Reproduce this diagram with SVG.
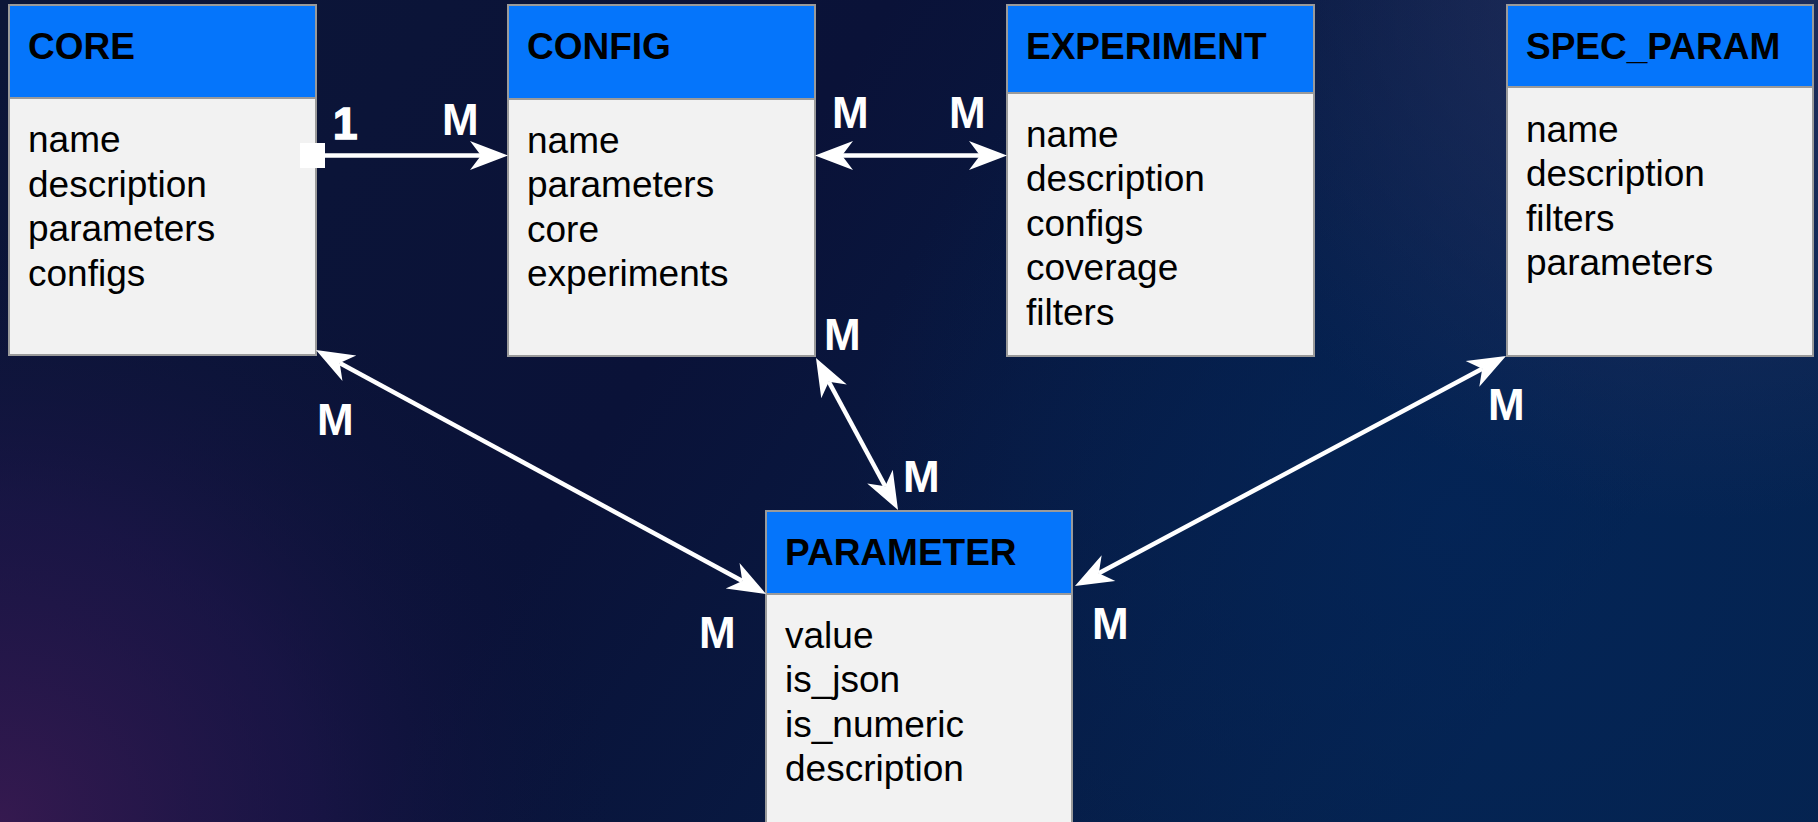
<svg xmlns="http://www.w3.org/2000/svg" width="1818" height="822" viewBox="0 0 1818 822">
  <style>
    .hdr { fill: #0575fb; stroke: #9a9a9a; stroke-width: 2; }
    .body { fill: #f2f2f2; stroke: #9a9a9a; stroke-width: 2; }
    .title { font-family: "Liberation Sans", Arial, sans-serif; font-weight: bold; font-size: 37px; fill: #000; }
    .field { font-family: "Liberation Sans", Arial, sans-serif; font-size: 37px; fill: #000; }
    .card { font-family: "Liberation Sans", Arial, sans-serif; font-weight: bold; font-size: 44px; fill: #fff; }
    .link { stroke: #fff; stroke-width: 4.5; fill: none; }
  </style>
  <defs>
    <linearGradient id="bgBase" x1="0" y1="0" x2="1" y2="0.3">
      <stop offset="0" stop-color="#0c1638"/>
      <stop offset="0.45" stop-color="#0a1238"/>
      <stop offset="1" stop-color="#05234f"/>
    </linearGradient>
    <radialGradient id="bgPurple" cx="0" cy="822" r="620" gradientUnits="userSpaceOnUse">
      <stop offset="0" stop-color="#3a1a52" stop-opacity="0.9"/>
      <stop offset="0.5" stop-color="#24164e" stop-opacity="0.55"/>
      <stop offset="1" stop-color="#0a1238" stop-opacity="0"/>
    </radialGradient>
    <radialGradient id="bgTopRight" cx="1700" cy="0" r="520" gradientUnits="userSpaceOnUse">
      <stop offset="0" stop-color="#26305e" stop-opacity="0.9"/>
      <stop offset="1" stop-color="#26305e" stop-opacity="0"/>
    </radialGradient>
    <radialGradient id="bgRight" cx="1450" cy="520" r="600" gradientUnits="userSpaceOnUse">
      <stop offset="0" stop-color="#032558" stop-opacity="0.8"/>
      <stop offset="1" stop-color="#032558" stop-opacity="0"/>
    </radialGradient>
    <!-- classic notched arrowhead; reference point sits at the notch -->
    <marker id="arrow" markerUnits="userSpaceOnUse" markerWidth="60" markerHeight="40" viewBox="-15 -20 60 40" refX="0" refY="0" orient="auto-start-reverse" overflow="visible">
      <path d="M27,0 L-11,-14.5 L0,0 L-11,14.5 Z" fill="#fff"/>
    </marker>
  </defs>

  <!-- backdrop -->
  <rect width="1818" height="822" fill="url(#bgBase)"/>
  <rect width="1818" height="822" fill="url(#bgRight)"/>
  <rect width="1818" height="822" fill="url(#bgPurple)"/>
  <rect width="1818" height="822" fill="url(#bgTopRight)"/>

  <!-- entities -->
  <g id="core">
    <rect class="body" x="9" y="5" width="307" height="350"/>
    <rect class="hdr" x="9" y="5" width="307" height="93"/>
    <text class="title" x="28" y="59">CORE</text>
    <text class="field" x="28" y="152">name</text>
    <text class="field" x="28" y="196.5">description</text>
    <text class="field" x="28" y="241">parameters</text>
    <text class="field" x="28" y="285.5">configs</text>
  </g>

  <g id="config">
    <rect class="body" x="508" y="5" width="307" height="351"/>
    <rect class="hdr" x="508" y="5" width="307" height="94"/>
    <text class="title" x="527" y="59">CONFIG</text>
    <text class="field" x="527" y="152.5">name</text>
    <text class="field" x="527" y="197">parameters</text>
    <text class="field" x="527" y="241.5">core</text>
    <text class="field" x="527" y="286">experiments</text>
  </g>

  <g id="experiment">
    <rect class="body" x="1007" y="5" width="307" height="351"/>
    <rect class="hdr" x="1007" y="5" width="307" height="88"/>
    <text class="title" x="1026" y="59">EXPERIMENT</text>
    <text class="field" x="1026" y="146.5">name</text>
    <text class="field" x="1026" y="191">description</text>
    <text class="field" x="1026" y="235.5">configs</text>
    <text class="field" x="1026" y="280">coverage</text>
    <text class="field" x="1026" y="324.5">filters</text>
  </g>

  <g id="spec_param">
    <rect class="body" x="1507" y="5" width="306" height="351"/>
    <rect class="hdr" x="1507" y="5" width="306" height="82"/>
    <text class="title" x="1526" y="59">SPEC_PARAM</text>
    <text class="field" x="1526" y="141.5">name</text>
    <text class="field" x="1526" y="186">description</text>
    <text class="field" x="1526" y="230.5">filters</text>
    <text class="field" x="1526" y="275">parameters</text>
  </g>

  <g id="parameter">
    <rect class="body" x="766" y="511" width="306" height="330"/>
    <rect class="hdr" x="766" y="511" width="306" height="83"/>
    <text class="title" x="785" y="565">PARAMETER</text>
    <text class="field" x="785" y="647.5">value</text>
    <text class="field" x="785" y="692">is_json</text>
    <text class="field" x="785" y="736.5">is_numeric</text>
    <text class="field" x="785" y="781">description</text>
  </g>

  <!-- relationships -->
  <g id="connectors">
    <rect x="300" y="143" width="25" height="25" fill="#fff"/>
    <line class="link" x1="325" y1="155.5" x2="481" y2="155.5" marker-end="url(#arrow)"/>
    <line class="link" x1="842" y1="155.5" x2="980" y2="155.5" marker-start="url(#arrow)" marker-end="url(#arrow)"/>
    <line class="link" x1="828.8" y1="381.8" x2="885.2" y2="486.2" marker-start="url(#arrow)" marker-end="url(#arrow)"/>
    <line class="link" x1="339.7" y1="362.9" x2="742.3" y2="581.1" marker-start="url(#arrow)" marker-end="url(#arrow)"/>
    <line class="link" x1="1482.2" y1="368.7" x2="1098.8" y2="573.3" marker-start="url(#arrow)" marker-end="url(#arrow)"/>
  </g>

  <!-- cardinalities -->
  <g id="cardinalities">
    <text class="card" x="333" y="138.5" font-size="56" stroke="#fff" stroke-width="1.5">1</text>
    <text class="card" x="442" y="135">M</text>
    <text class="card" x="832" y="128">M</text>
    <text class="card" x="949" y="128">M</text>
    <text class="card" x="824" y="350">M</text>
    <text class="card" x="903" y="492">M</text>
    <text class="card" x="317" y="435">M</text>
    <text class="card" x="699" y="648">M</text>
    <text class="card" x="1092" y="639">M</text>
    <text class="card" x="1488" y="420">M</text>
  </g>
</svg>
